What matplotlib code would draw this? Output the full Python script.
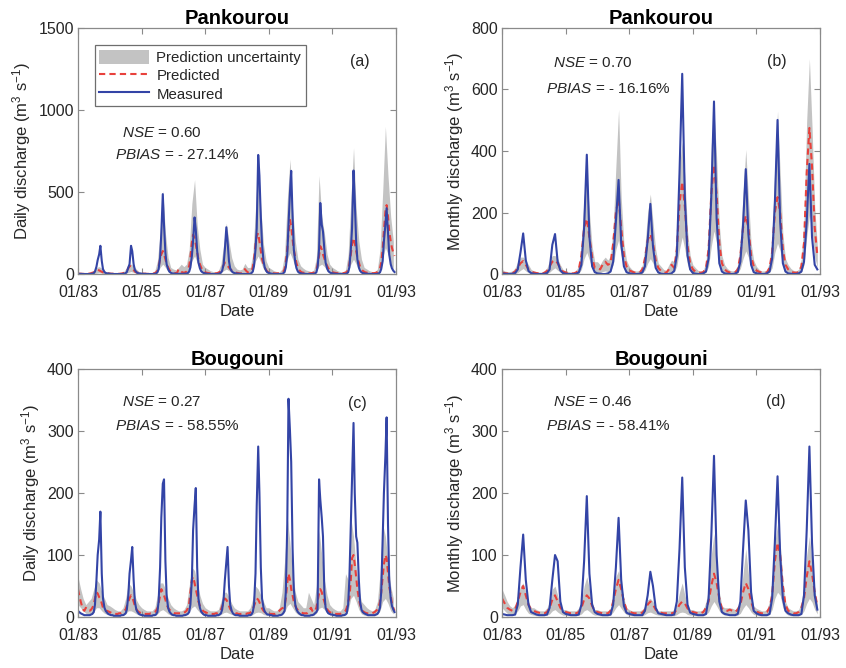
"""Measured vs. predicted discharge with prediction uncertainty, Pankourou and Bougouni, 1983-1992."""

import matplotlib
matplotlib.use("Agg")
import matplotlib.dates as mdates
import matplotlib.pyplot as plt
import pandas as pd
from matplotlib.lines import Line2D
from matplotlib.patches import Patch

plt.rcParams["font.family"] = ["Liberation Sans", "DejaVu Sans"]
plt.rcParams["mathtext.fontset"] = "custom"
plt.rcParams["mathtext.rm"] = "Liberation Sans"
plt.rcParams["mathtext.it"] = "Liberation Sans:italic"

# time grids: half-monthly for the daily series, monthly for the rest
half_month_dates = pd.date_range("1983-01-01", periods=240, freq="SMS")
month_dates = pd.date_range("1983-01-01", periods=120, freq="MS")

# ---- Pankourou, daily (half-monthly samples), m3/s
pank_daily_measured = [
    2, 1, 1, 1, 0, 0, 0, 0, 0, 0, 1, 2, 5, 15, 45, 85, 120, 172, 80, 30, 12, 6, 4, 3,
    2, 1, 1, 0, 0, 0, 0, 0, 0, 0, 1, 2, 5, 12, 40, 60, 172, 140, 60, 25, 12, 6, 4, 3,
    2, 1, 1, 1, 0, 0, 0, 0, 0, 0, 1, 3, 10, 30, 100, 250, 487, 300, 130, 60, 30, 15, 8, 4,
    3, 2, 1, 1, 1, 1, 1, 1, 2, 2, 3, 5, 15, 40, 110, 200, 345, 270, 140, 70, 35, 18, 10, 6,
    4, 2, 1, 1, 0, 0, 0, 0, 0, 0, 1, 3, 8, 20, 60, 150, 285, 200, 80, 35, 18, 10, 6, 4,
    3, 2, 1, 1, 0, 0, 0, 0, 0, 0, 2, 5, 15, 50, 150, 280, 726, 600, 350, 180, 80, 40, 20, 10,
    6, 4, 2, 1, 1, 0, 0, 0, 0, 0, 1, 4, 12, 40, 120, 300, 500, 629, 350, 150, 70, 35, 15, 8,
    5, 3, 2, 1, 1, 0, 0, 0, 0, 0, 1, 3, 10, 40, 150, 433, 300, 260, 150, 70, 35, 18, 10, 6,
    4, 3, 2, 1, 1, 0, 0, 0, 0, 0, 1, 3, 10, 40, 150, 280, 631, 450, 200, 90, 40, 20, 10, 6,
    4, 3, 2, 1, 1, 0, 0, 0, 0, 0, 1, 3, 10, 30, 80, 200, 300, 401, 250, 120, 60, 35, 20, 12,
]
pank_daily_predicted = [
    3, 2, 2, 1, 1, 1, 1, 1, 2, 3, 5, 8, 10, 15, 20, 25, 22, 18, 14, 10, 8, 6, 5, 4,
    3, 2, 2, 1, 1, 1, 1, 1, 2, 3, 5, 8, 12, 20, 35, 50, 45, 35, 25, 15, 10, 8, 6, 4,
    4, 3, 2, 2, 1, 1, 1, 1, 2, 3, 5, 10, 20, 45, 90, 120, 140, 120, 90, 60, 40, 25, 15, 10,
    8, 6, 5, 10, 30, 25, 15, 10, 8, 10, 15, 25, 50, 100, 190, 240, 220, 180, 130, 90, 60, 40, 25, 15,
    10, 8, 6, 5, 4, 3, 3, 3, 4, 5, 8, 12, 20, 35, 55, 70, 60, 50, 40, 30, 22, 16, 12, 9,
    7, 5, 4, 4, 6, 15, 30, 20, 12, 10, 12, 20, 40, 90, 180, 230, 250, 200, 140, 90, 60, 40, 25, 15,
    10, 8, 6, 5, 4, 4, 4, 4, 5, 6, 8, 12, 30, 70, 150, 250, 330, 290, 210, 150, 100, 65, 40, 25,
    15, 10, 8, 6, 5, 4, 4, 4, 5, 6, 8, 12, 25, 55, 110, 170, 150, 120, 95, 70, 50, 35, 25, 18,
    12, 9, 7, 6, 5, 4, 4, 4, 5, 6, 8, 12, 25, 60, 120, 180, 220, 190, 140, 100, 70, 45, 30, 20,
    14, 10, 8, 6, 5, 5, 5, 5, 6, 8, 12, 20, 35, 70, 150, 260, 380, 420, 350, 260, 200, 160, 130, 110,
]
pank_daily_upper = [
    10, 8, 6, 5, 5, 8, 25, 40, 45, 35, 20, 12,
    10, 8, 6, 5, 5, 10, 30, 60, 60, 50, 30, 15,
    10, 8, 6, 5, 8, 20, 80, 250, 510, 250, 100, 40,
    30, 25, 40, 60, 45, 60, 150, 430, 575, 300, 150, 60,
    40, 30, 20, 15, 12, 20, 60, 180, 310, 200, 100, 50,
    30, 25, 30, 65, 40, 40, 120, 400, 720, 400, 180, 80,
    40, 30, 20, 15, 12, 30, 120, 450, 700, 400, 200, 90,
    50, 35, 25, 20, 15, 25, 100, 600, 350, 250, 120, 60,
    40, 30, 20, 15, 12, 25, 120, 450, 770, 400, 200, 90,
    40, 30, 20, 15, 12, 30, 150, 500, 900, 600, 350, 200,
]
pank_daily_lower = [
    0, 0, 0, 0, 0, 0, 2, 5, 8, 5, 2, 1,
    0, 0, 0, 0, 0, 0, 3, 10, 15, 10, 4, 1,
    1, 0, 0, 0, 0, 1, 10, 40, 60, 40, 15, 5,
    3, 2, 2, 3, 3, 5, 20, 80, 110, 70, 30, 10,
    3, 2, 1, 1, 1, 2, 8, 20, 30, 20, 10, 5,
    3, 2, 2, 3, 3, 5, 20, 80, 110, 70, 30, 10,
    5, 3, 2, 1, 1, 3, 20, 90, 130, 90, 40, 15,
    5, 3, 2, 1, 1, 3, 15, 50, 60, 45, 20, 8,
    5, 3, 2, 1, 1, 3, 15, 60, 90, 60, 25, 10,
    5, 3, 2, 1, 1, 3, 20, 100, 160, 120, 60, 30,
]

# ---- Pankourou, monthly, m3/s
pank_monthly_measured = [
    2, 1, 0, 0, 1, 3, 15, 70, 132, 45, 10, 3,
    1, 0, 0, 0, 1, 3, 15, 95, 130, 40, 12, 3,
    1, 0, 0, 0, 1, 5, 30, 150, 388, 120, 25, 6,
    2, 1, 0, 0, 2, 8, 40, 170, 306, 100, 25, 6,
    2, 1, 0, 0, 1, 5, 25, 110, 228, 90, 20, 5,
    1, 0, 0, 0, 2, 10, 60, 330, 651, 250, 60, 15,
    3, 1, 0, 0, 2, 8, 50, 250, 561, 180, 35, 8,
    2, 1, 0, 0, 1, 6, 40, 160, 341, 130, 30, 6,
    2, 1, 0, 0, 2, 8, 50, 230, 501, 170, 35, 8,
    2, 1, 0, 0, 2, 8, 40, 170, 358, 120, 30, 15,
]
pank_monthly_predicted = [
    5, 3, 2, 2, 3, 8, 20, 35, 42, 30, 15, 8,
    5, 3, 2, 2, 4, 10, 25, 40, 45, 35, 18, 8,
    5, 3, 2, 2, 5, 15, 60, 150, 180, 120, 55, 20,
    20, 15, 30, 40, 30, 35, 100, 200, 245, 150, 60, 25,
    12, 8, 5, 4, 5, 15, 50, 110, 130, 100, 45, 20,
    10, 6, 4, 15, 30, 20, 80, 230, 300, 220, 90, 35,
    15, 8, 5, 4, 6, 20, 80, 260, 355, 260, 100, 35,
    15, 8, 5, 4, 5, 15, 60, 150, 190, 150, 60, 25,
    12, 7, 5, 4, 5, 20, 70, 200, 250, 200, 80, 30,
    15, 8, 5, 4, 6, 25, 100, 330, 475, 350, 150, 60,
]
pank_monthly_upper = [
    15, 10, 8, 8, 10, 20, 40, 55, 55, 45, 30, 15,
    10, 8, 6, 6, 10, 20, 45, 60, 60, 50, 30, 15,
    10, 8, 6, 6, 10, 30, 100, 250, 330, 200, 90, 40,
    40, 30, 45, 55, 45, 60, 150, 350, 535, 250, 100, 45,
    25, 15, 10, 10, 12, 30, 90, 200, 260, 170, 80, 35,
    25, 15, 12, 30, 45, 40, 150, 350, 430, 320, 140, 60,
    30, 20, 12, 10, 12, 40, 150, 420, 530, 380, 160, 60,
    30, 18, 12, 10, 12, 30, 110, 260, 405, 250, 100, 45,
    25, 15, 10, 10, 12, 40, 130, 350, 530, 330, 130, 50,
    30, 18, 12, 10, 15, 50, 180, 500, 700, 480, 220, 90,
]
pank_monthly_lower = [
    0, 0, 0, 0, 0, 1, 5, 12, 18, 10, 4, 1,
    0, 0, 0, 0, 0, 1, 6, 14, 20, 12, 5, 2,
    1, 0, 0, 0, 0, 2, 15, 50, 70, 45, 18, 6,
    5, 4, 8, 10, 8, 10, 30, 80, 110, 60, 20, 8,
    3, 2, 1, 1, 1, 3, 12, 35, 50, 35, 15, 6,
    3, 2, 1, 4, 8, 6, 25, 80, 120, 80, 30, 10,
    4, 2, 1, 1, 1, 5, 25, 90, 140, 100, 35, 12,
    4, 2, 1, 1, 1, 4, 18, 50, 75, 55, 20, 8,
    3, 2, 1, 1, 1, 5, 20, 70, 100, 75, 28, 10,
    4, 2, 1, 1, 1, 6, 30, 120, 190, 140, 55, 20,
]

# ---- Bougouni, daily (half-monthly samples), m3/s
boug_daily_measured = [
    10, 8, 6, 5, 4, 3, 3, 3, 3, 3, 4, 5, 8, 20, 60, 100, 125, 170, 70, 30, 15, 10, 7, 5,
    4, 3, 3, 2, 2, 2, 2, 2, 2, 3, 3, 4, 6, 12, 35, 70, 92, 113, 60, 25, 12, 8, 5, 4,
    3, 3, 2, 2, 2, 2, 2, 2, 2, 3, 3, 4, 8, 25, 80, 160, 215, 222, 90, 35, 15, 9, 6, 4,
    3, 3, 2, 2, 2, 2, 2, 2, 3, 3, 4, 5, 8, 20, 60, 140, 180, 208, 80, 30, 15, 9, 6, 4,
    3, 3, 2, 2, 2, 2, 2, 2, 2, 3, 3, 4, 6, 12, 30, 60, 90, 113, 50, 20, 10, 6, 4, 3,
    3, 3, 2, 2, 2, 2, 2, 2, 2, 3, 3, 4, 8, 20, 70, 180, 275, 200, 80, 30, 15, 9, 6, 4,
    4, 3, 3, 2, 2, 2, 2, 2, 3, 3, 4, 6, 10, 40, 150, 352, 300, 250, 110, 45, 20, 12, 8, 6,
    4, 3, 3, 2, 2, 2, 2, 2, 3, 3, 4, 6, 8, 12, 222, 190, 160, 130, 40, 15, 9, 6, 5, 4,
    4, 3, 3, 2, 2, 2, 2, 2, 3, 3, 4, 6, 20, 60, 150, 220, 313, 200, 130, 120, 60, 25, 12, 8,
    6, 5, 4, 3, 3, 3, 3, 3, 3, 4, 5, 8, 15, 40, 130, 200, 260, 322, 150, 60, 30, 18, 12, 8,
]
boug_daily_predicted = [
    45, 35, 25, 18, 12, 10, 15, 12, 10, 10, 12, 15, 20, 30, 40, 38, 32, 30, 22, 15, 12, 10, 10, 9,
    8, 7, 6, 6, 5, 5, 5, 6, 6, 7, 8, 10, 12, 18, 25, 30, 35, 32, 25, 18, 13, 10, 8, 7,
    6, 5, 5, 5, 5, 5, 5, 6, 6, 7, 8, 10, 14, 22, 35, 45, 40, 35, 28, 20, 15, 12, 10, 8,
    7, 6, 6, 6, 6, 6, 6, 7, 7, 8, 10, 14, 22, 40, 60, 65, 55, 45, 35, 25, 18, 14, 11, 9,
    8, 7, 6, 6, 5, 5, 5, 5, 6, 6, 7, 9, 12, 17, 24, 30, 28, 24, 18, 13, 10, 8, 7, 6,
    6, 5, 5, 5, 5, 5, 5, 5, 6, 6, 7, 9, 12, 18, 25, 30, 28, 24, 18, 14, 10, 8, 7, 6,
    6, 5, 5, 5, 5, 5, 6, 8, 10, 12, 14, 15, 18, 30, 55, 70, 60, 45, 35, 25, 18, 14, 11, 9,
    8, 7, 6, 6, 6, 6, 8, 12, 15, 10, 8, 10, 15, 25, 38, 45, 40, 32, 25, 18, 13, 10, 8, 7,
    6, 5, 5, 5, 5, 5, 5, 6, 7, 8, 10, 15, 25, 30, 60, 95, 100, 85, 65, 45, 30, 20, 14, 10,
    8, 7, 6, 6, 6, 6, 6, 7, 8, 10, 12, 15, 25, 40, 65, 85, 100, 95, 70, 50, 35, 22, 15, 10,
]
boug_daily_upper = [
    65, 45, 30, 20, 25, 30, 45, 60, 55, 40, 30, 20,
    18, 15, 12, 10, 10, 15, 30, 55, 50, 40, 28, 20,
    15, 12, 10, 10, 10, 15, 35, 55, 55, 45, 30, 20,
    15, 12, 10, 10, 12, 20, 50, 80, 75, 55, 35, 22,
    15, 12, 10, 10, 10, 12, 25, 40, 40, 32, 22, 15,
    12, 10, 10, 10, 10, 15, 30, 50, 45, 35, 25, 15,
    15, 12, 10, 10, 15, 40, 90, 160, 120, 70, 40, 25,
    20, 15, 15, 40, 30, 20, 50, 140, 100, 60, 35, 20,
    15, 12, 10, 10, 15, 70, 60, 160, 130, 80, 45, 25,
    20, 15, 12, 10, 12, 25, 70, 150, 130, 90, 50, 30,
]
boug_daily_lower = [
    20, 15, 10, 6, 4, 4, 8, 15, 15, 10, 6, 4,
    3, 2, 2, 2, 2, 3, 5, 10, 10, 8, 5, 3,
    3, 2, 2, 2, 2, 3, 5, 10, 12, 9, 5, 3,
    3, 2, 2, 2, 2, 3, 8, 15, 18, 12, 7, 4,
    3, 2, 2, 2, 2, 2, 4, 7, 8, 6, 4, 3,
    2, 2, 2, 2, 2, 2, 4, 7, 8, 7, 4, 3,
    3, 2, 2, 2, 2, 4, 8, 18, 22, 15, 8, 4,
    3, 3, 3, 3, 2, 3, 6, 14, 16, 12, 6, 4,
    3, 2, 2, 2, 2, 4, 10, 30, 35, 25, 12, 5,
    3, 2, 2, 2, 2, 4, 10, 25, 30, 22, 10, 5,
]

# ---- Bougouni, monthly, m3/s
boug_monthly_measured = [
    5, 4, 3, 3, 3, 4, 20, 80, 133, 60, 20, 8,
    6, 4, 3, 3, 3, 4, 15, 60, 100, 90, 25, 8,
    5, 4, 3, 3, 3, 4, 20, 90, 195, 70, 20, 8,
    5, 4, 3, 3, 3, 4, 20, 80, 160, 60, 18, 7,
    5, 4, 3, 3, 3, 3, 10, 35, 73, 50, 15, 6,
    5, 4, 3, 3, 3, 4, 25, 110, 225, 80, 20, 7,
    5, 4, 3, 3, 3, 5, 30, 130, 260, 100, 25, 8,
    5, 4, 3, 3, 3, 5, 25, 110, 188, 140, 40, 10,
    6, 4, 3, 3, 3, 5, 30, 120, 227, 100, 30, 10,
    6, 4, 3, 3, 3, 5, 35, 140, 275, 120, 35, 12,
]
boug_monthly_predicted = [
    30, 22, 15, 12, 10, 12, 25, 40, 50, 35, 20, 12,
    10, 8, 7, 6, 6, 8, 15, 28, 35, 25, 15, 10,
    8, 7, 6, 6, 6, 8, 15, 28, 35, 30, 18, 10,
    8, 7, 6, 6, 6, 10, 25, 45, 60, 45, 25, 12,
    9, 7, 6, 6, 6, 7, 12, 20, 25, 20, 12, 8,
    7, 6, 6, 6, 6, 7, 12, 20, 25, 22, 14, 9,
    8, 7, 6, 6, 8, 15, 25, 50, 70, 55, 30, 14,
    10, 10, 12, 10, 8, 12, 20, 40, 55, 45, 25, 12,
    9, 7, 6, 6, 8, 15, 35, 90, 120, 100, 50, 20,
    10, 8, 6, 6, 8, 15, 30, 65, 90, 70, 40, 18,
]
boug_monthly_upper = [
    45, 35, 25, 18, 15, 20, 35, 50, 55, 40, 25, 15,
    15, 12, 10, 10, 10, 15, 25, 45, 50, 35, 20, 12,
    12, 10, 10, 10, 10, 15, 25, 50, 65, 45, 25, 12,
    12, 10, 10, 10, 10, 15, 35, 65, 75, 55, 30, 15,
    12, 10, 10, 10, 10, 12, 18, 28, 30, 25, 15, 10,
    10, 10, 10, 10, 10, 12, 20, 40, 55, 35, 20, 12,
    12, 10, 10, 10, 12, 25, 45, 100, 135, 80, 40, 18,
    15, 15, 15, 14, 12, 18, 30, 70, 110, 70, 35, 18,
    14, 12, 10, 10, 12, 25, 60, 120, 150, 120, 60, 25,
    15, 12, 10, 10, 12, 25, 50, 100, 130, 90, 45, 20,
]
boug_monthly_lower = [
    15, 10, 6, 4, 4, 5, 10, 18, 20, 12, 6, 4,
    3, 2, 2, 2, 2, 3, 5, 10, 12, 8, 5, 3,
    3, 2, 2, 2, 2, 3, 5, 10, 12, 9, 5, 3,
    3, 2, 2, 2, 2, 3, 8, 15, 20, 14, 8, 4,
    3, 2, 2, 2, 2, 2, 4, 7, 8, 6, 4, 3,
    2, 2, 2, 2, 2, 2, 4, 7, 8, 7, 4, 3,
    3, 2, 2, 2, 2, 4, 8, 18, 25, 18, 10, 5,
    3, 3, 3, 3, 2, 3, 6, 14, 20, 15, 8, 4,
    3, 2, 2, 2, 2, 4, 12, 30, 40, 35, 15, 6,
    3, 2, 2, 2, 2, 4, 10, 22, 30, 24, 12, 5,
]

tick_years = [1983, 1985, 1987, 1989, 1991, 1993]

BAND = "#c3c3c3"
PRED = "#e8413c"
MEAS = "#3344a6"
TEXT = "#262626"
FRAME = "#8a8a8a"


def draw_panel(ax, line_dates, measured, predicted, band_dates, lower, upper,
               title, ylabel, ymax, ystep, nse, pbias, tag, stats_x):
    ax.fill_between(band_dates, lower, upper, color=BAND, linewidth=0)
    ax.plot(line_dates, predicted, color=PRED, linestyle=(0, (3, 2)), linewidth=1.5)
    ax.plot(line_dates, measured, color=MEAS, linewidth=1.5)

    ax.set_xlim(pd.Timestamp("1983-01-01"), pd.Timestamp("1993-01-01"))
    ax.set_ylim(0, ymax)
    ax.set_xticks([pd.Timestamp(f"{y}-01-01") for y in tick_years])
    ax.xaxis.set_major_formatter(mdates.DateFormatter("%m/%y"))
    ax.set_yticks(range(0, ymax + 1, ystep))
    ax.tick_params(direction="in", length=4, width=0.8, top=True, right=True,
                   labelsize=11.5, colors=FRAME, labelcolor=TEXT)
    ax.tick_params(axis="x", pad=8)
    ax.tick_params(axis="y", pad=3)
    for spine in ax.spines.values():
        spine.set_color(FRAME)
        spine.set_linewidth(0.9)

    ax.set_title(title, fontsize=14.5, fontweight="bold", color="black", pad=3)
    ax.set_ylabel(ylabel, fontsize=12, color=TEXT, labelpad=4)
    ax.set_xlabel("Date", fontsize=12, color=TEXT, labelpad=3)

    nse_x, pbias_x, nse_y, pbias_y = stats_x
    ax.text(nse_x, nse_y, r"$\it{NSE}$" + f" = {nse}", transform=ax.transAxes,
            fontsize=11, color=TEXT, va="center")
    ax.text(pbias_x, pbias_y, r"$\it{PBIAS}$" + f" = - {pbias}%", transform=ax.transAxes,
            fontsize=11, color=TEXT, va="center")
    ax.text(tag[1], tag[2], tag[0], transform=ax.transAxes, fontsize=11.5,
            color=TEXT, ha="center", va="center")


fig = plt.figure(figsize=(8.46, 6.68), dpi=100)
ax_a = fig.add_axes([0.0922, 0.5898, 0.3759, 0.3683])
ax_b = fig.add_axes([0.5934, 0.5898, 0.3759, 0.3683])
ax_c = fig.add_axes([0.0922, 0.0763, 0.3759, 0.3713])
ax_d = fig.add_axes([0.5934, 0.0763, 0.3759, 0.3713])

draw_panel(ax_a, half_month_dates, pank_daily_measured, pank_daily_predicted,
           month_dates, pank_daily_lower, pank_daily_upper,
           "Pankourou", "Daily discharge (m$^3$ s$^{-1}$)", 1500, 500,
           "0.60", "27.14", ("(a)", 0.885, 0.862), (0.138, 0.116, 0.573, 0.484))
draw_panel(ax_b, month_dates, pank_monthly_measured, pank_monthly_predicted,
           month_dates, pank_monthly_lower, pank_monthly_upper,
           "Pankourou", "Monthly discharge (m$^3$ s$^{-1}$)", 800, 200,
           "0.70", "16.16", ("(b)", 0.865, 0.862), (0.16, 0.137, 0.858, 0.75))
draw_panel(ax_c, half_month_dates, boug_daily_measured, boug_daily_predicted,
           month_dates, boug_daily_lower, boug_daily_upper,
           "Bougouni", "Daily discharge (m$^3$ s$^{-1}$)", 400, 100,
           "0.27", "58.55", ("(c)", 0.88, 0.859), (0.137, 0.116, 0.867, 0.771))
draw_panel(ax_d, month_dates, boug_monthly_measured, boug_monthly_predicted,
           month_dates, boug_monthly_lower, boug_monthly_upper,
           "Bougouni", "Monthly discharge (m$^3$ s$^{-1}$)", 400, 100,
           "0.46", "58.41", ("(d)", 0.86, 0.867), (0.16, 0.137, 0.867, 0.771))

handles = [
    Patch(facecolor=BAND, edgecolor="none"),
    Line2D([], [], color=PRED, linestyle=(0, (3, 2)), linewidth=1.5),
    Line2D([], [], color=MEAS, linewidth=1.5),
]
legend = ax_a.legend(handles, ["Prediction uncertainty", "Predicted", "Measured"],
                     loc="upper left", bbox_to_anchor=(0.053, 0.93), fontsize=10.8,
                     handlelength=3.3, handleheight=1.1, handletextpad=0.5,
                     labelspacing=0.2, borderpad=0.3, borderaxespad=0,
                     fancybox=False, framealpha=1, edgecolor="#6e6e6e")
legend.get_frame().set_linewidth(0.9)
for text in legend.get_texts():
    text.set_color(TEXT)

fig.savefig("out.png", dpi=100, facecolor="white")
